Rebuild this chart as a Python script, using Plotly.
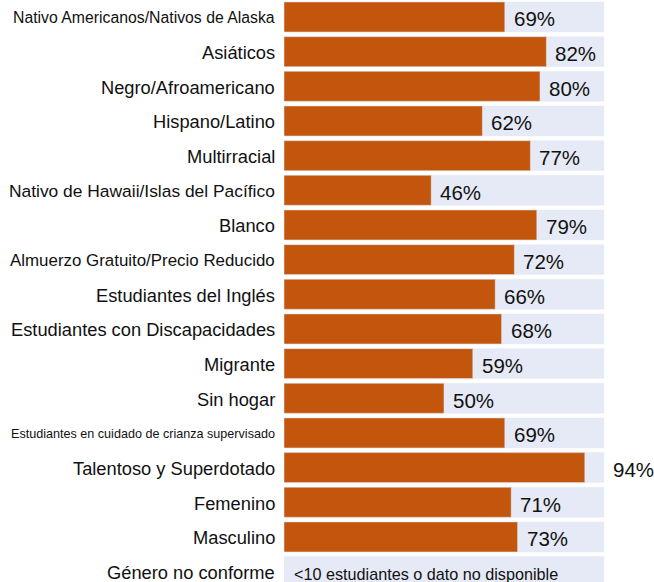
import plotly.graph_objects as go

categories = [
    "Nativo Americanos/Nativos de Alaska",
    "Asiáticos",
    "Negro/Afroamericano",
    "Hispano/Latino",
    "Multirracial",
    "Nativo de Hawaii/Islas del Pacífico",
    "Blanco",
    "Almuerzo Gratuito/Precio Reducido",
    "Estudiantes del Inglés",
    "Estudiantes con Discapacidades",
    "Migrante",
    "Sin hogar",
    "Estudiantes en cuidado de crianza supervisado",
    "Talentoso y Superdotado",
    "Femenino",
    "Masculino",
    "Género no conforme",
]
values = [69, 82, 80, 62, 77, 46, 79, 72, 66, 68, 59, 50, 69, 94, 71, 73, None]
full_scale = [100] * len(categories)
no_data_text = "<10 estudiantes o dato no disponible"

label_sizes = {
    "Nativo Americanos/Nativos de Alaska": 15.8,
    "Nativo de Hawaii/Islas del Pacífico": 17.4,
    "Almuerzo Gratuito/Precio Reducido": 16.9,
    "Estudiantes en cuidado de crianza supervisado": 12.6,
}

ORANGE = "#C4550C"
LAVENDER = "#E6E9F6"
FONT = "Liberation Sans, Arial, sans-serif"

idx = list(range(len(categories)))

fig = go.Figure()
fig.add_trace(go.Bar(y=idx, x=full_scale, orientation="h", marker_color=LAVENDER,
                     width=0.865, hoverinfo="skip"))
fig.add_trace(go.Bar(y=idx, x=values, orientation="h", marker_color=ORANGE,
                     width=0.865))

annotations = []
for i, (c, v) in enumerate(zip(categories, values)):
    annotations.append(dict(x=0, y=i, xref="x", yref="y", text=c, showarrow=False,
                            xanchor="right", yanchor="middle", xshift=-7, yshift=-1,
                            font=dict(family=FONT, size=label_sizes.get(c, 18.3), color="#111111")))
    if v is None:
        annotations.append(dict(x=0, y=i, xref="x", yref="y", text=no_data_text,
                                showarrow=False, xanchor="left", yanchor="middle",
                                xshift=8, yshift=-2,
                                font=dict(family=FONT, size=16.2, color="#111111")))
    else:
        tx = v if v + 16 <= 100 else 100
        annotations.append(dict(x=tx, y=i, xref="x", yref="y", text=f"{v}%",
                                showarrow=False, xanchor="left", yanchor="middle",
                                xshift=7, yshift=-2,
                                font=dict(family=FONT, size=20.5, color="#111111")))

fig.update_layout(
    width=654, height=582,
    margin=dict(l=284, r=0, t=0, b=0),
    barmode="overlay",
    showlegend=False,
    plot_bgcolor="white", paper_bgcolor="white",
    xaxis=dict(range=[0, 115.625], visible=False, fixedrange=True),
    yaxis=dict(range=[16.30, -0.49], visible=False, fixedrange=True),
    annotations=annotations,
    font=dict(family=FONT),
)

fig.write_html("out.html", config={"displayModeBar": False})
